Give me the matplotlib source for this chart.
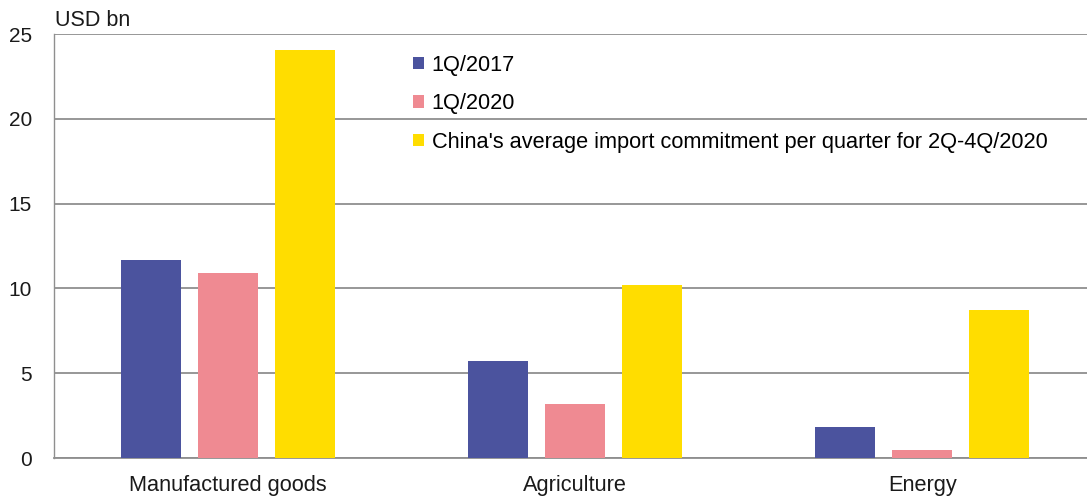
import numpy as np
import matplotlib.pyplot as plt

categories = ["Manufactured goods", "Agriculture", "Energy"]
q1_2017 = [11.65, 5.7, 1.8]
q1_2020 = [10.9, 3.2, 0.5]
commitment = [24.05, 10.2, 8.75]
series_names = ["1Q/2017", "1Q/2020",
                "China's average import commitment per quarter for 2Q-4Q/2020"]
colors = ["#4B539E", "#EF8A92", "#FFDD00"]

plt.rcParams['font.family'] = ['Liberation Sans', 'DejaVu Sans']

fig = plt.figure(figsize=(10.87, 4.99), dpi=100)
ax = fig.add_axes([54/1087, 1 - 458/499, (1096 - 54)/1087, (458 - 34)/499])

x = np.arange(len(categories))
w = 0.173
off = 0.222
for i, (vals, name, c) in enumerate(zip([q1_2017, q1_2020, commitment], series_names, colors)):
    ax.bar(x + (i - 1)*off, vals, width=w, color=c, label=name, zorder=3)

ax.set_xlim(-0.5, 2.5)
ax.set_ylim(0, 25)
ax.set_yticks(range(0, 26, 5))
ax.set_xticks(x)
ax.set_xticklabels(categories)
ax.tick_params(axis='both', length=0, colors='#1a1a1a')
ax.tick_params(axis='y', pad=16, labelsize=15)
ax.tick_params(axis='x', pad=12, labelsize=15.7)
ax.yaxis.grid(True, color='#8f8f8f', linewidth=1.3, zorder=0)
for s in ['top', 'right']:
    ax.spines[s].set_visible(False)
ax.spines['left'].set_color('#8f8f8f')
ax.spines['left'].set_linewidth(1.0)
ax.spines['bottom'].set_color('#8f8f8f')
ax.spines['bottom'].set_linewidth(1.3)

fig.text(55/1087, 1 - 20/499, "USD bn", fontsize=15.5, va='center', ha='left', color='#1a1a1a')

leg = ax.legend(loc='upper left', bbox_to_anchor=(413/1087, 1 - 55/499),
                bbox_transform=fig.transFigure, frameon=False, fontsize=15.7,
                handlelength=0.5, handleheight=0.5, handletextpad=0.35,
                labelspacing=0.8, borderpad=0, borderaxespad=0)

fig.savefig("out.png", dpi=100)
